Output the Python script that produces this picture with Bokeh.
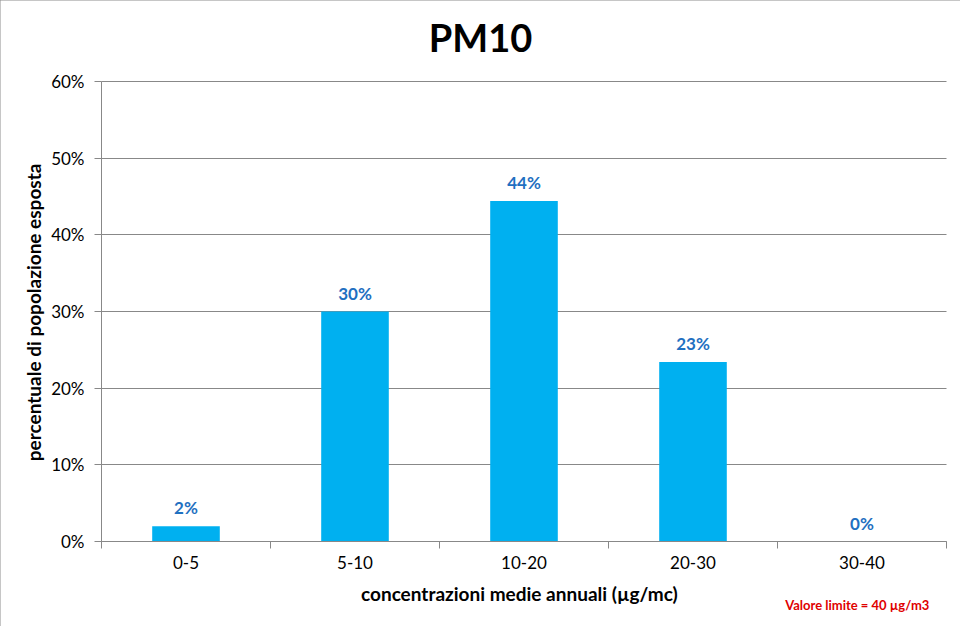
import math
from bokeh.plotting import figure
from bokeh.models import ColumnDataSource, FixedTicker, LabelSet, NumeralTickFormatter
from bokeh.core.properties import value
from bokeh.embed import file_html
from bokeh.resources import INLINE

categories = ["0-5", "5-10", "10-20", "20-30", "30-40"]
values = [0.02, 0.30, 0.444, 0.234, 0.0]
y_ticks = [0, 0.1, 0.2, 0.3, 0.4, 0.5, 0.6]
title_text = "PM10"
x_title = "concentrazioni  medie annuali  (µg/mc)"
y_title = "percentuale  di  popolazione  esposta"
note_text = "Valore limite = 40  µg/m3"

FONT = "Lato"
W, H = 960, 626
# layout of the plotting area in canvas pixels
L_PX, R_PX, T_PX, B_PX = 101, 946, 81, 541
n = len(categories)
y_max = y_ticks[-1]
kx = (R_PX - L_PX) / n
ky = (B_PX - T_PX) / y_max


def px_x(px):
    return (px - L_PX) / kx


def px_y(py):
    return (B_PX - py) / ky


centers = [i + 0.5 for i in range(n)]
bounds = list(range(n + 1))
labels = [f"{round(v * 100):d}%" for v in values]

src = ColumnDataSource(dict(x=centers, top=values, lab=labels))

p = figure(width=W, height=H, output_backend="svg", toolbar_location=None,
           title_location=None,
           x_range=(px_x(0), px_x(W)), y_range=(px_y(H), px_y(0)),
           min_border_left=0, min_border_right=0, min_border_top=0, min_border_bottom=0)
p.styles = {"outline": "1px solid #8c8c8c", "outline-offset": "-1px"}
p.outline_line_color = None
p.background_fill_color = "white"

# horizontal grid lines limited to the plotting area
p.xgrid.grid_line_color = None
if hasattr(p.ygrid, "cross_bounds"):
    p.ygrid.grid_line_color = "#888888"
    p.ygrid.grid_line_width = 1
    p.ygrid.bounds = (0, y_max)
    p.ygrid.cross_bounds = (0, n)
else:
    p.ygrid.grid_line_color = None
    grid_src = ColumnDataSource(dict(x0=[0] * len(y_ticks), x1=[n] * len(y_ticks),
                                     y=y_ticks))
    p.segment(x0="x0", x1="x1", y0="y", y1="y", source=grid_src,
              line_color="#888888", line_width=1)

p.vbar(x="x", top="top", width=0.4, bottom=0, source=src, fill_color="#00B0F0", line_color=None)

p.add_layout(LabelSet(x="x", y="top", text="lab", source=src, text_align="center",
                      text_baseline="bottom", y_offset=8, text_font=value(FONT),
                      text_font_style="bold", text_font_size="17px", text_color="#1F70C1"))

# axes, anchored at the data origin
xa = p.xaxis[0]
xa.fixed_location = 0
xa.bounds = (0, n)
xa.ticker = FixedTicker(ticks=centers, minor_ticks=bounds)
xa.major_label_overrides = {c: nm for c, nm in zip(centers, categories)}
xa.major_tick_line_color = None
xa.minor_tick_in = 0
xa.minor_tick_out = 7
xa.minor_tick_line_color = "#888888"
xa.axis_line_color = "#888888"
xa.major_label_text_font = FONT
xa.major_label_text_font_size = "17px"
xa.major_label_text_color = "#000000"
xa.major_label_standoff = 7

ya = p.yaxis[0]
ya.fixed_location = 0
ya.bounds = (0, y_max)
ya.ticker = FixedTicker(ticks=y_ticks)
ya.formatter = NumeralTickFormatter(format="0%")
ya.major_tick_in = 0
ya.major_tick_out = 7
ya.major_tick_line_color = "#888888"
ya.minor_tick_line_color = None
ya.axis_line_color = "#888888"
ya.major_label_text_font = FONT
ya.major_label_text_font_size = "17px"
ya.major_label_text_color = "#000000"
ya.major_label_standoff = 10

# titles and note
t_src = ColumnDataSource(dict(x=[px_x(480)], y=[px_y(36.5)], t=[title_text]))
p.add_layout(LabelSet(x="x", y="y", text="t", source=t_src, text_align="center",
                      text_baseline="middle", text_font=value(FONT), text_font_style="bold",
                      text_font_size="38px", text_color="#000000"))

xt_src = ColumnDataSource(dict(x=[n / 2], y=[px_y(593)], t=[x_title]))
p.add_layout(LabelSet(x="x", y="y", text="t", source=xt_src, text_align="center",
                      text_baseline="middle", text_font=value(FONT), text_font_style="bold",
                      text_font_size="19px", text_color="#000000"))

yt_src = ColumnDataSource(dict(x=[px_x(32.5)], y=[px_y(305)], t=[y_title]))
p.add_layout(LabelSet(x="x", y="y", text="t", source=yt_src, text_align="center",
                      text_baseline="middle", angle=math.pi / 2, text_font=value(FONT),
                      text_font_style="bold", text_font_size="19px", text_color="#000000"))

n_src = ColumnDataSource(dict(x=[px_x(932)], y=[px_y(604.5)], t=[note_text]))
p.add_layout(LabelSet(x="x", y="y", text="t", source=n_src, text_align="right",
                      text_baseline="middle", text_font=value(FONT), text_font_style="bold",
                      text_font_size="13px", text_color="#E00000"))

open("out.html", "w").write(file_html(p, INLINE))
